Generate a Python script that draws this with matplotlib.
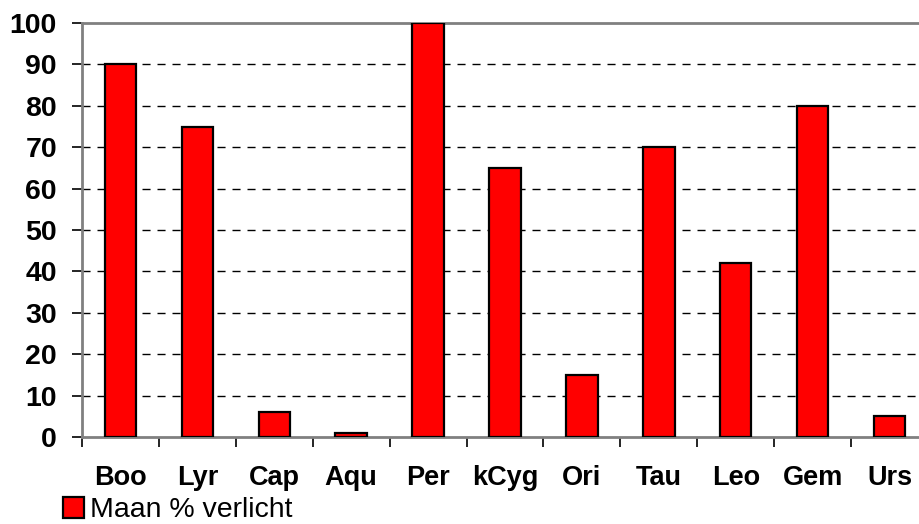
import matplotlib
matplotlib.use("Agg")
import matplotlib.pyplot as plt
import numpy as np
from matplotlib.patches import Patch

categories = ["Boo", "Lyr", "Cap", "Aqu", "Per", "kCyg", "Ori", "Tau", "Leo", "Gem", "Urs"]
values = [90, 75, 6, 1, 100, 65, 15, 70, 42, 80, 5]
yticks = [0, 10, 20, 30, 40, 50, 60, 70, 80, 90, 100]
series_name = "Maan % verlicht"

plt.rcParams['font.family'] = ['Liberation Sans', 'DejaVu Sans']

W, H = 920, 524
fig = plt.figure(figsize=(W / 100, H / 100), dpi=100)
left, right, top, bottom = 82, 928, 23, 437
ax = fig.add_axes([left / W, 1 - bottom / H, (right - left) / W, (bottom - top) / H])

x = np.arange(len(categories))
ax.bar(x, values, width=0.41, color="#ff0000", edgecolor="black", linewidth=1.6, zorder=3)

ax.set_xlim(-0.5, len(categories) - 0.5)
ax.set_ylim(0, 100)
ax.set_yticks(yticks)
ax.set_yticklabels([str(v) for v in yticks], fontsize=20.5, fontweight="bold")
for v in yticks[1:-1]:
    ax.axhline(v, color="black", linewidth=1.0, linestyle=(0, (5.8, 5.0)), zorder=1)
ax.axhline(100, color="#808080", linewidth=2.0, zorder=2, clip_on=False)

ax.set_xticks(x)
ax.set_xticklabels(categories, fontsize=19.5, fontweight="bold")
ax.tick_params(axis="x", length=0, pad=20)
ax.set_xticks(np.arange(len(categories) + 1) - 0.5, minor=True)
ax.tick_params(axis="x", which="minor", length=7, width=1.2, color="black", direction="out")
ax.tick_params(axis="y", length=7, width=1.2, color="black", direction="out", pad=11)

for s in ["top", "right"]:
    ax.spines[s].set_visible(False)
ax.spines["left"].set_color("#808080")
ax.spines["left"].set_linewidth(2.0)
ax.spines["bottom"].set_color("#808080")
ax.spines["bottom"].set_linewidth(2.0)

handle = Patch(facecolor="#ff0000", edgecolor="black", linewidth=1.6)
fig.legend([handle], [series_name], loc="lower left", bbox_to_anchor=(40 / W, -22 / H),
           frameon=False, fontsize=20.5, handlelength=0.75, handleheight=0.75,
           handletextpad=0.2, borderpad=0.3)

fig.savefig("out.png", dpi=100)
